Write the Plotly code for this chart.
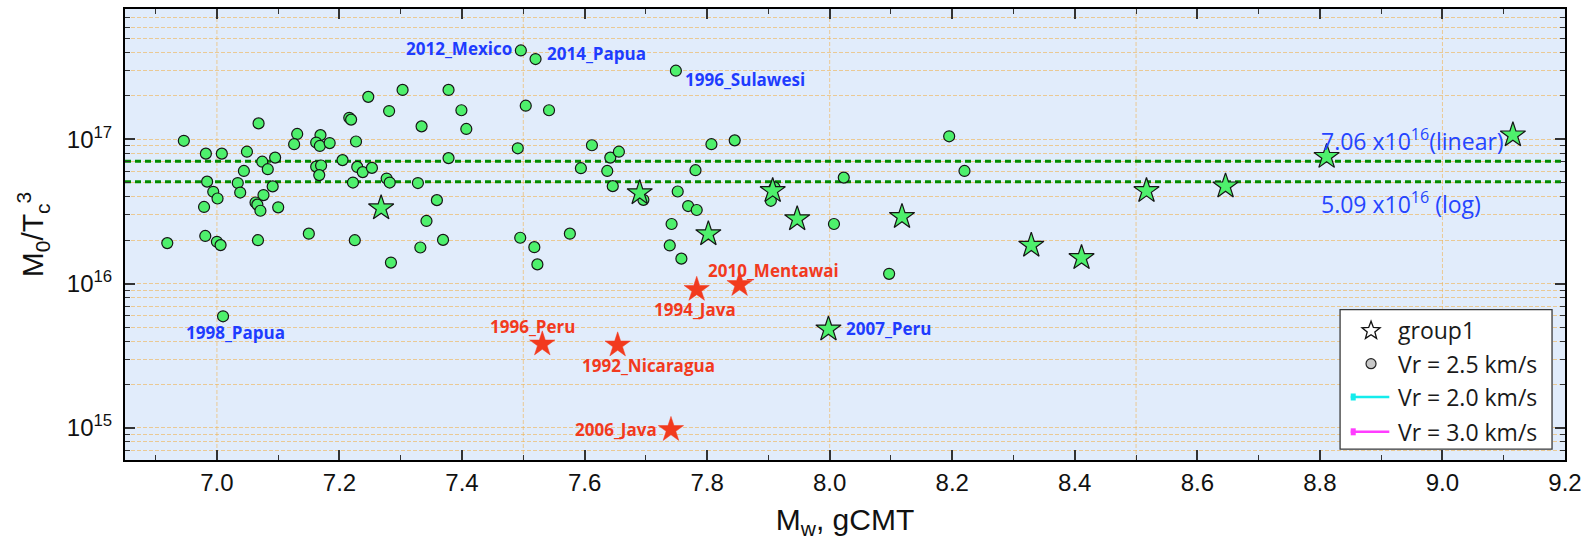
import numpy as np
import plotly.graph_objects as go

# ---------------- data ----------------
# events with Vr = 2.5 km/s (circles): Mw (gCMT) and M0/Tc^3
mw_vr25 = [
    6.919, 6.946, 6.982, 7.008, 6.984, 6.994, 7.001, 6.979, 6.981, 7.000, 7.006,
    7.068, 7.049, 7.044, 7.034, 7.038, 7.074, 7.083, 7.095, 7.091, 7.076, 7.063,
    7.066, 7.071, 7.100, 7.067, 7.150, 7.131, 7.126, 7.169, 7.162, 7.168, 7.184,
    7.162, 7.170, 7.167, 7.205, 7.216, 7.219, 7.227, 7.229, 7.238, 7.253, 7.222,
    7.225, 7.247, 7.277, 7.282, 7.281, 7.303, 7.284, 7.334, 7.328, 7.359, 7.342,
    7.332, 7.369, 7.378, 7.399, 7.407, 7.378, 7.491, 7.495, 7.504, 7.542, 7.612,
    7.642, 7.656, 7.594, 7.637, 7.646, 7.696, 7.807, 7.845, 7.781, 7.752, 7.769,
    7.783, 7.742, 7.739, 7.758, 7.518, 7.523, 7.576, 7.910, 7.904, 8.007, 8.023,
    8.097, 8.195, 8.220,
    7.496, 7.520, 7.749, 7.010,
]
m0tc3_vr25 = [
    1.91e16, 9.77e16, 7.96e16, 7.96e16, 5.09e16, 4.33e16, 3.89e16, 3.40e16, 2.14e16, 1.95e16, 1.85e16,
    1.29e17, 8.21e16, 6.04e16, 4.98e16, 4.28e16, 7.00e16, 6.21e16, 7.47e16, 4.72e16, 4.11e16, 3.65e16,
    3.53e16, 3.20e16, 3.38e16, 2.00e16, 2.22e16, 1.09e17, 9.25e16, 1.07e17, 9.50e16, 9.00e16, 9.42e16,
    6.47e16, 6.59e16, 5.65e16, 7.18e16, 1.41e17, 1.37e17, 9.66e16, 6.44e16, 5.93e16, 6.34e16, 5.02e16,
    2.00e16, 1.97e17, 5.35e16, 5.02e16, 1.57e17, 2.20e17, 1.40e16, 1.23e17, 4.98e16, 3.79e16, 2.72e16,
    1.78e16, 2.01e16, 2.20e17, 1.59e17, 1.18e17, 7.41e16, 8.67e16, 2.08e16, 1.71e17, 1.59e17, 9.10e16,
    7.47e16, 8.21e16, 6.31e16, 6.04e16, 4.74e16, 3.81e16, 9.25e16, 9.84e16, 6.11e16, 4.35e16, 3.45e16,
    3.24e16, 2.59e16, 1.84e16, 1.49e16, 1.79e16, 1.36e16, 2.22e16, 4.64e16, 3.75e16, 2.59e16, 5.43e16,
    1.17e16, 1.05e17, 6.04e16,
    4.13e17, 3.60e17, 2.99e17, 5.94e15,
]
# named circle events (index into the Vr = 2.5 km/s arrays)
vr25_names = ["2012_Mexico", "2014_Papua", "1996_Sulawesi", "1998_Papua"]
vr25_name_idx = [91, 92, 93, 94]

# group1 events (green stars)
mw_group1 = [7.268, 7.690, 7.802, 7.907, 7.947, 8.118, 8.329, 8.411, 8.517, 8.646, 8.811, 9.115, 7.998]
m0tc3_group1 = [3.34e16, 4.25e16, 2.21e16, 4.40e16, 2.81e16, 2.91e16, 1.84e16, 1.51e16, 4.40e16,
                4.74e16, 7.59e16, 1.07e17, 4.84e15]
group1_names = ["2007_Peru"]
group1_name_idx = [12]

# slow (tsunami) events (red stars)
slow_names = ["1996_Peru", "1992_Nicaragua", "1994_Java", "2010_Mentawai", "2006_Java"]
mw_slow = [7.531, 7.654, 7.783, 7.853, 7.741]
m0tc3_slow = [3.81e15, 3.75e15, 9.10e15, 9.84e15, 9.73e14]

# mean levels of M0/Tc^3
linear_mean = 7.06e16
log_mean = 5.09e16

# axis ticks
x_range = [6.85, 9.2]
y_range = [6e14, 8e17]
y_tick_vals = [1e15, 1e16, 1e17]
y_tick_text = ["10<sup>15</sup>", "10<sup>16</sup>", "10<sup>17</sup>"]
x_grid_vals = [7.0, 7.5, 8.0, 8.5, 9.0]

legend_labels = ["group1", "Vr = 2.5 km/s", "Vr = 2.0 km/s", "Vr = 3.0 km/s"]

# ---------------- styles ----------------
GREEN = "#4ef06c"
RED = "#f23a1e"
BLUE = "#1e3cff"
GRID = "rgba(240,178,80,0.6)"
AXFONT = "Liberation Sans, Arial, sans-serif"
LBLFONT = "Open Sans, sans-serif"

# label placement: (xanchor, xshift, yshift) in pixels
vr25_label_pos = [("right", -7, 2), ("left", 9, 6), ("left", 7, -9), ("center", 12, -16)]
group1_label_pos = [("left", 16, 1)]
slow_label_pos = [("center", -10, 18), ("center", 31, -20), ("center", -2, -20),
                  ("center", 34, 14), ("right", -12, 0)]

fig = go.Figure()

# mean levels
for val in (linear_mean, log_mean):
    fig.add_trace(go.Scatter(
        x=x_range, y=[val, val], mode="lines",
        line=dict(color="#008a00", width=3, dash="6px,4px"),
        hoverinfo="skip", showlegend=False))

fig.add_trace(go.Scatter(
    x=mw_vr25, y=m0tc3_vr25, mode="markers", name=legend_labels[1],
    marker=dict(symbol="circle", size=11, color=GREEN, line=dict(color="#151515", width=1.2)),
    showlegend=False))

fig.add_trace(go.Scatter(
    x=mw_group1, y=m0tc3_group1, mode="markers", name=legend_labels[0],
    marker=dict(symbol="star", size=19, color=GREEN, line=dict(color="#151515", width=1.2)),
    showlegend=False))

fig.add_trace(go.Scatter(
    x=mw_slow, y=m0tc3_slow, mode="markers", name="slow events",
    marker=dict(symbol="star", size=19, color=RED, line=dict(color=RED, width=0.5)),
    showlegend=False))

annotations = []


def event_label(text, x, y, pos, color):
    xanchor, xs, ys = pos
    annotations.append(dict(
        x=x, y=np.log10(y), xref="x", yref="y", text=text, showarrow=False,
        xanchor=xanchor, yanchor="middle", xshift=xs, yshift=ys,
        font=dict(family=LBLFONT, size=17, color=color, weight="bold")))


for name, i, pos in zip(vr25_names, vr25_name_idx, vr25_label_pos):
    event_label(name, mw_vr25[i], m0tc3_vr25[i], pos, BLUE)
for name, i, pos in zip(group1_names, group1_name_idx, group1_label_pos):
    event_label(name, mw_group1[i], m0tc3_group1[i], pos, BLUE)
for name, x, y, pos in zip(slow_names, mw_slow, m0tc3_slow, slow_label_pos):
    event_label(name, x, y, pos, RED)

# mean level labels
mean_text_x = 0.8295
annotations.append(dict(
    x=mean_text_x, xref="paper", y=np.log10(linear_mean), yref="y", yshift=21,
    text=f"{linear_mean / 1e16:.2f} x10<sup>16</sup>(linear)", showarrow=False,
    xanchor="left", yanchor="middle", font=dict(family=LBLFONT, size=23, color="#2545ff")))
annotations.append(dict(
    x=mean_text_x, xref="paper", y=np.log10(log_mean), yref="y", yshift=-21,
    text=f"{log_mean / 1e16:.2f} x10<sup>16</sup> (log)", showarrow=False,
    xanchor="left", yanchor="middle", font=dict(family=LBLFONT, size=23, color="#2545ff")))

# ---------------- legend box ----------------
box_x0, box_x1, box_y0, box_y1 = 0.8438, 0.9910, 0.0243, 0.3333
row_y = [0.2885, 0.2135, 0.1397, 0.0625]
text_x = 0.8824
sym_x = 0.8653
line_x0, line_x1 = 0.8512, 0.8780

shapes = []
for gx in x_grid_vals:
    shapes.append(dict(type="line", xref="x", yref="paper", x0=gx, x1=gx, y0=0, y1=1,
                       line=dict(color=GRID, width=1, dash="4px,2px"), layer="below"))

shapes.append(dict(type="rect", xref="paper", yref="paper", x0=box_x0, x1=box_x1,
                   y0=box_y0, y1=box_y1, fillcolor="white",
                   line=dict(color="#3a3a3a", width=1.3), layer="above"))

# open five-point star swatch (pixel path around its anchor)
r_out, r_in = 9.5, 4.0
pts = []
for k in range(10):
    ang = np.pi / 2 + k * np.pi / 5
    r = r_out if k % 2 == 0 else r_in
    pts.append((r * np.cos(ang), r * np.sin(ang) - 0.8))
star_path = "M " + " L ".join(f"{px:.2f},{py:.2f}" for px, py in pts) + " Z"
shapes.append(dict(type="path", xref="paper", yref="paper", xsizemode="pixel", ysizemode="pixel",
                   xanchor=sym_x, yanchor=row_y[0], path=star_path, fillcolor="white",
                   line=dict(color="#111111", width=1.3), layer="above"))
shapes.append(dict(type="circle", xref="paper", yref="paper", xsizemode="pixel", ysizemode="pixel",
                   xanchor=sym_x, yanchor=row_y[1], x0=-5, x1=5, y0=-5, y1=5,
                   fillcolor="#c8c8c8", line=dict(color="#222222", width=1.2), layer="above"))

for ry, col in zip(row_y[2:], ["#14ecec", "#ff3cff"]):
    shapes.append(dict(type="line", xref="paper", yref="paper", x0=line_x0, x1=line_x1,
                       y0=ry, y1=ry, line=dict(color=col, width=2.5), layer="above"))
    shapes.append(dict(type="rect", xref="paper", yref="paper", xsizemode="pixel",
                       ysizemode="pixel", xanchor=line_x0, yanchor=ry, x0=0, x1=5, y0=-3.5, y1=3.5,
                       fillcolor=col, line=dict(width=0), layer="above"))

for ry, txt in zip(row_y, legend_labels):
    annotations.append(dict(x=text_x, y=ry, xref="paper", yref="paper", text=txt,
                            showarrow=False, xanchor="left", yanchor="middle",
                            font=dict(family=LBLFONT, size=23, color="#1a1a1a")))

minor_y = [m * 10.0 ** e for e in range(14, 18) for m in range(2, 10)]

fig.update_layout(
    width=1593, height=548,
    margin=dict(l=125, r=28, t=7, b=88),
    paper_bgcolor="white", plot_bgcolor="#e1ecfb",
    showlegend=False,
    annotations=annotations, shapes=shapes,
    xaxis=dict(
        range=x_range, dtick=0.2, tick0=7.0, tickformat=".1f",
        ticks="inside", ticklen=10, tickwidth=1.5, tickcolor="#333333",
        mirror="ticks", showline=True, linecolor="black", linewidth=2,
        showgrid=False, zeroline=False,
        minor=dict(dtick=0.1, tick0=7.0, ticks="inside", ticklen=5, tickwidth=1.3,
                   tickcolor="#333333", showgrid=False),
        tickfont=dict(family=AXFONT, size=24, color="#111111"),
        title=dict(text="M<sub>w</sub>, gCMT", font=dict(family=AXFONT, size=30, color="#111111"),
                   standoff=14),
    ),
    yaxis=dict(
        type="log", range=[np.log10(y_range[0]), np.log10(y_range[1])],
        tickvals=y_tick_vals, ticktext=y_tick_text,
        ticks="inside", ticklen=10, tickwidth=1.5, tickcolor="#333333",
        mirror="ticks", showline=True, linecolor="black", linewidth=2,
        showgrid=True, gridcolor=GRID, griddash="4px,2px", gridwidth=1, zeroline=False,
        minor=dict(tickvals=minor_y, ticks="inside", ticklen=5, tickwidth=1.3,
                   tickcolor="#333333", showgrid=True, gridcolor=GRID,
                   griddash="4px,2px", gridwidth=1),
        tickfont=dict(family=AXFONT, size=24, color="#111111"),
        ticklabelstandoff=6,
        title=dict(text="M<sub>0</sub>/T<sub>c</sub><sup>3</sup>",
                   font=dict(family=AXFONT, size=30, color="#111111"), standoff=14),
    ),
)

fig.write_html("out.html")
